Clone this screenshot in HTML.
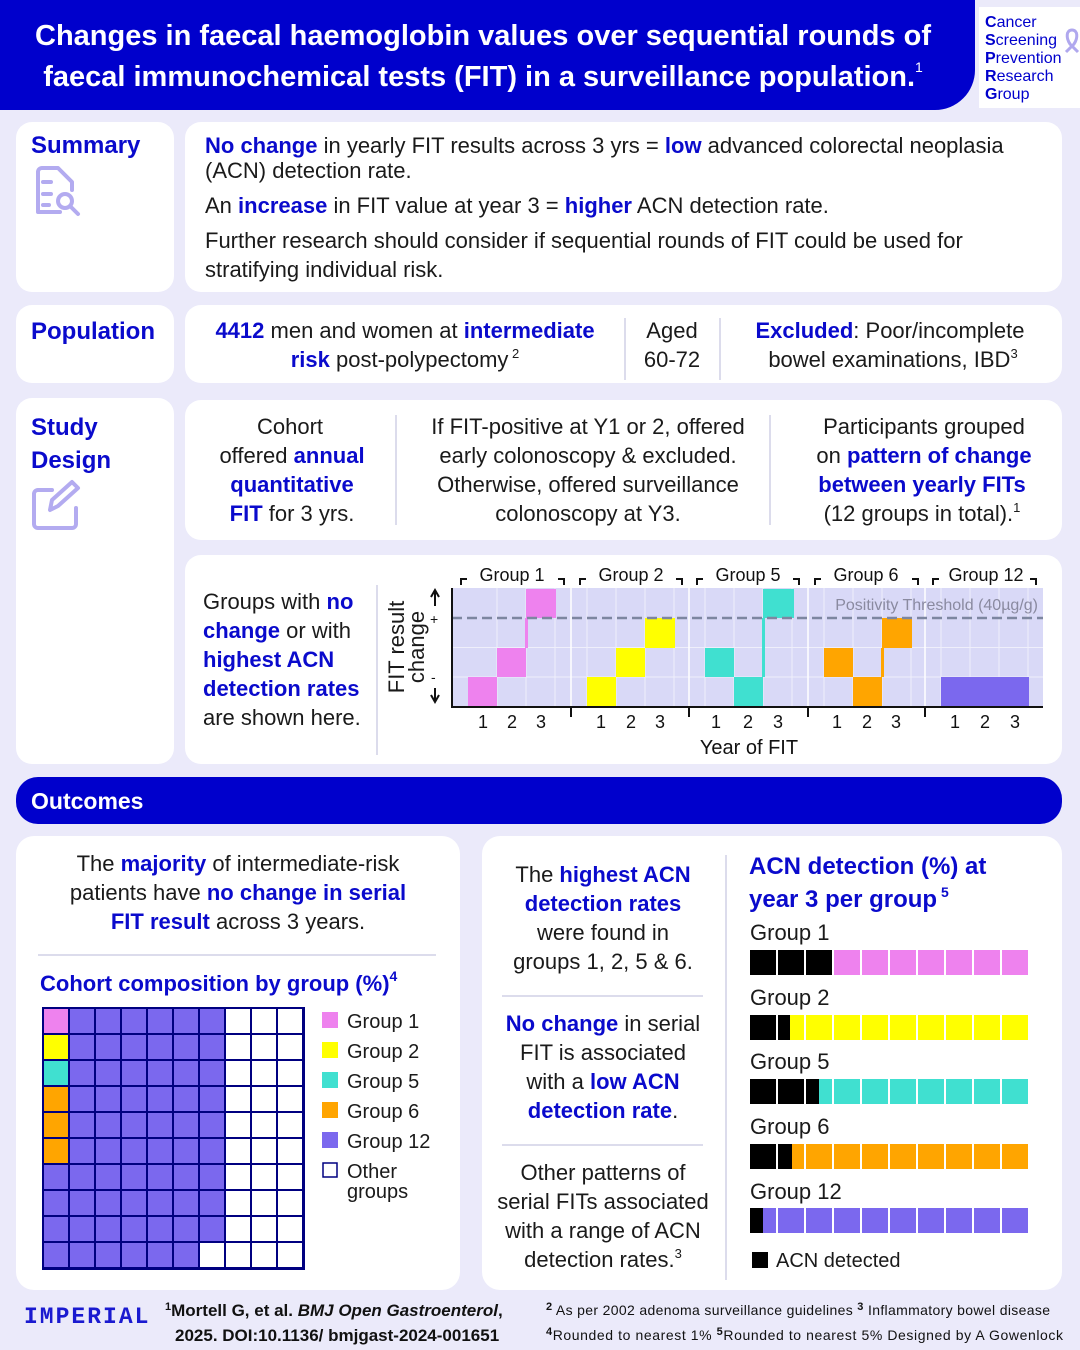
<!DOCTYPE html>
<html><head><meta charset="utf-8"><style>
html,body{margin:0;padding:0;background:#ebeafa;}
svg{display:block;font-family:"Liberation Sans",sans-serif;}
.b{fill:#0a0acc;font-weight:bold;}
.t{fill:#1a1a1a;font-size:22px;}
</style></head><body>
<svg width="1080" height="1350" viewBox="0 0 1080 1350" xmlns="http://www.w3.org/2000/svg">
<rect width="1080" height="1350" fill="#ebeafa"/>
<!-- header -->
<path d="M0 0H975V70A40 40 0 0 1 935 110H0Z" fill="#0000cc"/>
<text x="483" y="45" text-anchor="middle" fill="#fff" font-size="29" font-weight="bold">Changes in faecal haemoglobin values over sequential rounds of</text>
<text x="483" y="86" text-anchor="middle" fill="#fff" font-size="29" font-weight="bold">faecal immunochemical tests (FIT) in a surveillance population.<tspan font-size="14" font-weight="normal" dy="-14">1</tspan></text>
<rect x="979" y="7" width="101" height="101" fill="#fff"/>
<g font-size="16" fill="#0000cc"><text x="985" y="27"><tspan font-weight="bold">C</tspan>ancer</text><text x="985" y="45"><tspan font-weight="bold">S</tspan>creening</text><text x="985" y="63"><tspan font-weight="bold">P</tspan>revention</text><text x="985" y="81"><tspan font-weight="bold">R</tspan>esearch</text><text x="985" y="99"><tspan font-weight="bold">G</tspan>roup</text></g>
<path d="M1072 30c-6 0-6 8-2 14l8 8M1072 30c6 0 6 8 2 14l-8 8" stroke="#b0a8ee" stroke-width="3" fill="none"/>

<!-- cards -->
<g fill="#fff">
<rect x="16" y="122" width="158" height="170" rx="16"/>
<rect x="185" y="122" width="877" height="170" rx="16"/>
<rect x="16" y="305" width="158" height="78" rx="16"/>
<rect x="185" y="305" width="877" height="78" rx="16"/>
<rect x="16" y="398" width="158" height="366" rx="16"/>
<rect x="185" y="400" width="877" height="140" rx="16"/>
<rect x="185" y="555" width="877" height="209" rx="16"/>
<rect x="16" y="836" width="444" height="454" rx="18"/>
<rect x="482" y="836" width="580" height="454" rx="18"/>
</g>
<rect x="16" y="777" width="1046" height="47" rx="22" fill="#0000cc"/>
<text x="31" y="809" fill="#fff" font-size="23" font-weight="bold">Outcomes</text>

<!-- labels -->
<text x="31" y="153" class="b" font-size="24">Summary</text>
<text x="31" y="339" class="b" font-size="24">Population</text>
<text x="31" y="435" class="b" font-size="24">Study</text>
<text x="31" y="468" class="b" font-size="24">Design</text>
<g stroke="#b3abf0" stroke-width="4" fill="none" stroke-linecap="round" stroke-linejoin="round">
<path d="M48 168H58L72 182V190M60 212H38V172A4 4 0 0 1 42 168H48"/>
<path d="M43 182H51M43 194H51M43 205H49"/>
<circle cx="65" cy="201" r="7"/><path d="M70 206L78 214"/>
<path d="M52 490H38A4 4 0 0 0 34 494V524A4 4 0 0 0 38 528H72A4 4 0 0 0 76 524V508"/>
<path d="M50 510L52 500L72 482L78 488L58 506Z"/>
</g>

<!-- summary -->
<g class="t">
<text x="205" y="153"><tspan class="b">No change</tspan> in yearly FIT results across 3 yrs = <tspan class="b">low</tspan> advanced colorectal neoplasia</text>
<text x="205" y="178">(ACN) detection rate.</text>
<text x="205" y="213">An <tspan class="b">increase</tspan> in FIT value at year 3 = <tspan class="b">higher</tspan> ACN detection rate.</text>
<text x="205" y="248">Further research should consider if sequential rounds of FIT could be used for</text>
<text x="205" y="277">stratifying individual risk.</text>
</g>
<!-- population -->
<g class="t" text-anchor="middle">
<text x="405" y="338"><tspan class="b">4412</tspan> men and women at <tspan class="b">intermediate</tspan></text>
<text x="405" y="367"><tspan class="b">risk</tspan> post-polypectomy<tspan font-size="13" dy="-9"> 2</tspan></text>
<text x="672" y="338">Aged</text><text x="672" y="367">60-72</text>
<text x="890" y="338"><tspan class="b">Excluded</tspan>: Poor/incomplete</text>
<text x="893" y="367">bowel examinations, IBD<tspan font-size="13" dy="-9">3</tspan></text>
</g>
<path d="M625 318V380M720 318V380" stroke="#dcdcec" stroke-width="2"/>
<!-- study -->
<g class="t" text-anchor="middle">
<text x="290" y="434">Cohort</text>
<text x="292" y="463">offered <tspan class="b">annual</tspan></text>
<text x="292" y="492" class="b">quantitative</text>
<text x="292" y="521"><tspan class="b">FIT</tspan> for 3 yrs.</text>
<text x="588" y="434">If FIT-positive at Y1 or 2, offered</text>
<text x="588" y="463">early colonoscopy &amp; excluded.</text>
<text x="588" y="492">Otherwise, offered surveillance</text>
<text x="588" y="521">colonoscopy at Y3.</text>
<text x="924" y="434">Participants grouped</text>
<text x="924" y="463">on <tspan class="b">pattern of change</tspan></text>
<text x="922" y="492" class="b">between yearly FITs</text>
<text x="922" y="521">(12 groups in total).<tspan font-size="13" dy="-9">1</tspan></text>
</g>
<path d="M396 415V525M770 415V525" stroke="#dcdcec" stroke-width="2"/>
<!-- chart card -->
<g class="t">
<text x="203" y="609">Groups with <tspan class="b">no</tspan></text>
<text x="203" y="638"><tspan class="b">change</tspan> or with</text>
<text x="203" y="667" class="b">highest ACN</text>
<text x="203" y="696" class="b">detection rates</text>
<text x="203" y="725">are shown here.</text>
</g>
<path d="M377 585V755" stroke="#dcdcec" stroke-width="2"/>
<text transform="translate(404,647) rotate(-90)" text-anchor="middle" class="t" font-size="20">FIT result</text>
<text transform="translate(424,647) rotate(-90)" text-anchor="middle" class="t" font-size="20">change</text>
<path d="M435 592V606M431 597L435 590L439 597M435 688V702M431 695L435 702L439 695" stroke="#111" stroke-width="2" fill="none"/>
<text x="430" y="624" font-size="14" fill="#111">+</text><text x="431" y="682" font-size="14" fill="#111">-</text>
<rect x="452" y="588" width="591" height="118" fill="#d9d9f7"/>
<g stroke="#fff" stroke-width="1" opacity="0.6">
<path d="M452 647.5H1043M452 677H1043"/>
<path d="M497 588V706M526 588V706M555 588V706M587 588V706M616 588V706M645 588V706M674 588V706M705 588V706M734 588V706M763 588V706M792 588V706M824 588V706M853 588V706M882 588V706M911 588V706M941 588V706M970 588V706M999 588V706M1028 588V706"/>
</g>
<path d="M571 588V706M689 588V706M808 588V706M925 588V706" stroke="#fff" stroke-width="1.5"/>
<!-- cells -->
<g>
<rect x="468" y="677" width="29" height="29" fill="#ee82ee"/>
<rect x="497" y="648" width="29" height="29" fill="#ee82ee"/>
<rect x="526" y="589" width="30" height="29" fill="#ee82ee"/>
<rect x="525" y="618" width="3" height="30" fill="#ee82ee"/>
<rect x="587" y="677" width="29" height="29" fill="#ffff00"/>
<rect x="616" y="648" width="29" height="29" fill="#ffff00"/>
<rect x="645" y="618" width="30" height="30" fill="#ffff00"/>
<rect x="705" y="648" width="29" height="29" fill="#40e0d0"/>
<rect x="734" y="677" width="29" height="29" fill="#40e0d0"/>
<rect x="763" y="589" width="31" height="29" fill="#40e0d0"/>
<rect x="762" y="618" width="3" height="59" fill="#40e0d0"/>
<rect x="824" y="648" width="29" height="29" fill="#ffa500"/>
<rect x="853" y="677" width="29" height="29" fill="#ffa500"/>
<rect x="882" y="618" width="30" height="30" fill="#ffa500"/>
<rect x="881" y="648" width="3" height="29" fill="#ffa500"/>
<rect x="941" y="677" width="88" height="29" fill="#7b68ee"/>
</g>
<path d="M452 618H1043" stroke="#7d86a0" stroke-width="2.5" stroke-dasharray="10 5"/>
<text x="1038" y="610" text-anchor="end" font-size="16" fill="#8a8aa0">Positivity Threshold (40µg/g)</text>
<path d="M452 588V707H1043" stroke="#111" stroke-width="2" fill="none"/>
<path d="M571 707V717M689 707V717M808 707V717M925 707V717" stroke="#111" stroke-width="2"/>
<g font-size="18" fill="#111" text-anchor="middle">
<text x="483" y="728">1</text><text x="512" y="728">2</text><text x="541" y="728">3</text>
<text x="601" y="728">1</text><text x="631" y="728">2</text><text x="660" y="728">3</text>
<text x="716" y="728">1</text><text x="748" y="728">2</text><text x="778" y="728">3</text>
<text x="837" y="728">1</text><text x="867" y="728">2</text><text x="896" y="728">3</text>
<text x="955" y="728">1</text><text x="985" y="728">2</text><text x="1015" y="728">3</text>
<text x="749" y="754" font-size="20">Year of FIT</text>
<text x="512" y="581">Group 1</text><text x="631" y="581">Group 2</text><text x="748" y="581">Group 5</text><text x="866" y="581">Group 6</text><text x="986" y="581">Group 12</text>
</g>
<g stroke="#111" stroke-width="2" fill="none">
<path d="M461 585V579H467M558 579H564V585"/>
<path d="M580 585V579H586M676 579H682V585"/>
<path d="M697 585V579H703M793 579H799V585"/>
<path d="M815 585V579H821M912 579H918V585"/>
<path d="M933 585V579H939M1030 579H1036V585"/>
</g>

<!-- outcomes left -->
<g class="t" text-anchor="middle">
<text x="238" y="871">The <tspan class="b">majority</tspan> of intermediate-risk</text>
<text x="238" y="900">patients have <tspan class="b">no change in serial</tspan></text>
<text x="238" y="929"><tspan class="b">FIT result</tspan> across 3 years.</text>
</g>
<path d="M38 955H436" stroke="#dcdcec" stroke-width="2"/>
<text x="40" y="991" class="b" font-size="22">Cohort composition by group (%)<tspan font-size="14" dy="-10">4</tspan></text>
<rect x="42" y="1007" width="263" height="263" fill="#000080"/>
<g font-size="20" fill="#1a1a1a">
<rect x="322" y="1012" width="16" height="16" fill="#ee82ee"/><text x="347" y="1028">Group 1</text>
<rect x="322" y="1042" width="16" height="16" fill="#ffff00"/><text x="347" y="1058">Group 2</text>
<rect x="322" y="1072" width="16" height="16" fill="#40e0d0"/><text x="347" y="1088">Group 5</text>
<rect x="322" y="1102" width="16" height="16" fill="#ffa500"/><text x="347" y="1118">Group 6</text>
<rect x="322" y="1132" width="16" height="16" fill="#7b68ee"/><text x="347" y="1148">Group 12</text>
<rect x="323" y="1163" width="14" height="14" fill="#fff" stroke="#000080" stroke-width="1.5"/><text x="347" y="1178">Other</text><text x="347" y="1198">groups</text>
</g>

<!-- outcomes right -->
<g class="t" text-anchor="middle">
<text x="603" y="882">The <tspan class="b">highest ACN</tspan></text>
<text x="603" y="911" class="b">detection rates</text>
<text x="603" y="940">were found in</text>
<text x="603" y="969">groups 1, 2, 5 &amp; 6.</text>
<text x="603" y="1031"><tspan class="b">No change</tspan> in serial</text>
<text x="603" y="1060">FIT is associated</text>
<text x="603" y="1089">with a <tspan class="b">low ACN</tspan></text>
<text x="603" y="1118"><tspan class="b">detection rate</tspan>.</text>
<text x="603" y="1180">Other patterns of</text>
<text x="603" y="1209">serial FITs associated</text>
<text x="603" y="1238">with a range of ACN</text>
<text x="603" y="1267">detection rates.<tspan font-size="13" dy="-9">3</tspan></text>
</g>
<path d="M502 996H703M502 1145H703M726 855V1280" stroke="#dcdcec" stroke-width="2"/>
<text x="749" y="874" class="b" font-size="24">ACN detection (%) at</text>
<text x="749" y="907" class="b" font-size="24">year 3 per group<tspan font-size="14" dy="-10"> 5</tspan></text>
<g font-size="22" fill="#1a1a1a">
<text x="750" y="940">Group 1</text><text x="750" y="1005">Group 2</text><text x="750" y="1069">Group 5</text><text x="750" y="1134">Group 6</text><text x="750" y="1199">Group 12</text>
<rect x="752" y="1252" width="16" height="16" fill="#000"/><text x="776" y="1267" font-size="20">ACN detected</text>
</g>

<!-- footer -->
<text x="24" y="1323" font-family="Liberation Mono,monospace" font-size="23" fill="#1a1ad0" letter-spacing="2" font-weight="bold">IMPERIAL</text>
<g fill="#111">
<text x="165" y="1316" font-size="17" font-weight="bold"><tspan font-size="11" dy="-6">1</tspan><tspan dy="6">Mortell G, et al. </tspan><tspan font-style="italic">BMJ Open Gastroenterol</tspan>,</text>
<text x="175" y="1341" font-size="17" font-weight="bold">2025. DOI:10.1136/ bmjgast-2024-001651</text>
<text x="546" y="1315" font-size="14" textLength="504" lengthAdjust="spacing"><tspan font-size="11" font-weight="bold" dy="-5">2</tspan><tspan dy="5"> As per 2002 adenoma surveillance guidelines </tspan><tspan font-size="11" font-weight="bold" dy="-5">3</tspan><tspan dy="5"> Inflammatory bowel disease</tspan></text>
<text x="546" y="1340" font-size="14" textLength="517" lengthAdjust="spacing"><tspan font-size="11" font-weight="bold" dy="-5">4</tspan><tspan dy="5">Rounded to nearest 1%   </tspan><tspan font-size="11" font-weight="bold" dy="-5">5</tspan><tspan dy="5">Rounded to nearest 5%    Designed by A Gowenlock</tspan></text>
</g>
<g transform="translate(44,1009)">
<g fill="#7b68ee">
<rect x="0" y="156" width="24" height="24"/><rect x="0" y="182" width="24" height="24"/><rect x="0" y="208" width="24" height="24"/><rect x="0" y="234" width="24" height="24"/>
</g>
<rect x="0" y="0" width="24" height="24" fill="#ee82ee"/>
<rect x="0" y="26" width="24" height="24" fill="#ffff00"/>
<rect x="0" y="52" width="24" height="24" fill="#40e0d0"/>
<rect x="0" y="78" width="24" height="24" fill="#ffa500"/>
<rect x="0" y="104" width="24" height="24" fill="#ffa500"/>
<rect x="0" y="130" width="24" height="24" fill="#ffa500"/>
</g>
<defs>
<pattern id="pp" x="70" y="1009" width="26" height="26" patternUnits="userSpaceOnUse"><rect width="24" height="24" fill="#7b68ee"/></pattern>
<pattern id="pw" x="226" y="1009" width="26" height="26" patternUnits="userSpaceOnUse"><rect width="24" height="24" fill="#fff"/></pattern>
<pattern id="bp" x="750" y="0" width="28" height="28" patternUnits="userSpaceOnUse"><rect width="26" height="28" fill="#ee82ee"/></pattern>
<pattern id="by" x="750" y="0" width="28" height="28" patternUnits="userSpaceOnUse"><rect width="26" height="28" fill="#ffff00"/></pattern>
<pattern id="bt" x="750" y="0" width="28" height="28" patternUnits="userSpaceOnUse"><rect width="26" height="28" fill="#40e0d0"/></pattern>
<pattern id="bo" x="750" y="0" width="28" height="28" patternUnits="userSpaceOnUse"><rect width="26" height="28" fill="#ffa500"/></pattern>
<pattern id="bv" x="750" y="0" width="28" height="28" patternUnits="userSpaceOnUse"><rect width="26" height="28" fill="#7b68ee"/></pattern>
<pattern id="bk" x="750" y="0" width="28" height="28" patternUnits="userSpaceOnUse"><rect width="26" height="28" fill="#000"/></pattern>
</defs>
<rect x="70" y="1009" width="154" height="260" fill="url(#pp)"/>
<rect x="226" y="1009" width="76" height="260" fill="url(#pw)"/>
<rect x="200" y="1243" width="24" height="24" fill="#fff"/>
<!-- bars -->
<rect x="750" y="950" width="280" height="25" fill="url(#bp)"/>
<rect x="750" y="950" width="84" height="25" fill="url(#bk)"/>
<rect x="750" y="1015" width="280" height="25" fill="url(#by)"/>
<rect x="750" y="1015" width="40" height="25" fill="url(#bk)"/>
<rect x="750" y="1079" width="280" height="25" fill="url(#bt)"/>
<rect x="750" y="1079" width="69" height="25" fill="url(#bk)"/>
<rect x="750" y="1144" width="280" height="25" fill="url(#bo)"/>
<rect x="750" y="1144" width="42" height="25" fill="url(#bk)"/>
<rect x="750" y="1208" width="280" height="25" fill="url(#bv)"/>
<rect x="750" y="1208" width="13" height="25" fill="#000"/>
</svg>
</body></html>
